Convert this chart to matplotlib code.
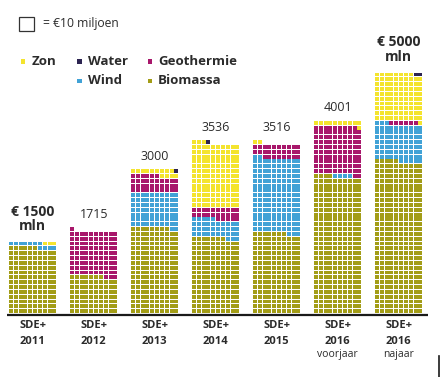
import matplotlib
matplotlib.use("Agg")
import matplotlib.pyplot as plt
from matplotlib.patches import Rectangle
from matplotlib.collections import PatchCollection

# SDE+ budget per round, one square = EUR 10 mln
rounds = ["2011", "2012", "2013", "2014", "2015", "2016", "2016"]
round_sub = ["", "", "", "", "", "voorjaar", "najaar"]
budget_labels = ["€ 1500\nmln", "1715", "3000", "3536", "3516", "4001", "€ 5000\nmln"]
label_bold = [True, False, False, False, False, False, True]

categories = ["Biomassa", "Wind", "Geothermie", "Zon", "Water"]
biomassa = [136, 77, 178, 157, 167, 284, 315]
wind = [11, 0, 72, 38, 155, 4, 78]
geothermie = [0, 94, 36, 25, 28, 101, 6]
zon = [3, 0, 13, 133, 2, 11, 99]
water = [0, 0, 1, 1, 0, 0, 2]

colors = {
    "Biomassa": "#a39d17",
    "Wind": "#41a2d6",
    "Geothermie": "#a8176b",
    "Zon": "#f4e42e",
    "Water": "#2c2451",
}
series = {"Biomassa": biomassa, "Wind": wind, "Geothermie": geothermie,
          "Zon": zon, "Water": water}

TXT = "#2b2b2b"
plt.rcParams["font.family"] = ["Open Sans", "DejaVu Sans"]

fig = plt.figure(figsize=(4.4, 3.77), dpi=100)
ax = fig.add_axes([0, 0, 1, 1])
ax.set_xlim(0, 440)
ax.set_ylim(377, 0)
ax.axis("off")

# waffle layout (pixels)
base = 313.5
first_left = 9
col_pitch = 61
pitch = 4.83
size = 3.9
per_row = 10

rects, fcols = [], []
for i in range(len(rounds)):
    x0 = first_left + i * col_pitch
    k = 0
    for cat in categories:
        for _ in range(series[cat][i]):
            row, col = divmod(k, per_row)
            rects.append(Rectangle((x0 + col * pitch, base - 0.4 - row * pitch - size), size, size))
            fcols.append(colors[cat])
            k += 1
    n_rows = -(-k // per_row)
    top = base - n_rows * pitch
    cx = x0 + (per_row * pitch - (pitch - size)) / 2
    if label_bold[i]:
        ax.text(cx, top - 8, budget_labels[i], ha="center", va="bottom", fontsize=10,
                fontweight="bold", color=TXT, linespacing=1.05)
    else:
        ax.text(cx, top - 6, budget_labels[i], ha="center", va="bottom", fontsize=9,
                color=TXT)
    ax.text(cx, 326, "SDE+", ha="center", va="center", fontsize=8, fontweight="bold", color=TXT)
    ax.text(cx, 341, rounds[i], ha="center", va="center", fontsize=8, fontweight="bold", color=TXT)
    if round_sub[i]:
        ax.text(cx, 355, round_sub[i], ha="center", va="center", fontsize=7.5, color=TXT)

ax.add_collection(PatchCollection(rects, facecolors=fcols, edgecolors="none"))

# baseline
ax.plot([7, 428], [314.8, 314.8], color="#1a1a1a", lw=1.6, solid_capstyle="butt")
ax.plot([439, 439], [356, 377], color="#1a1a1a", lw=1.2)

# scale key
ax.add_patch(Rectangle((18.5, 16.5), 15, 14.5, fill=False, edgecolor="#333333", lw=0.9))
ax.text(43, 24, "= €10 miljoen", ha="left", va="center", fontsize=8.7, color=TXT)

# legend
legend_pos = {
    "Zon": (20.7, 61.5),
    "Water": (77.3, 61.5),
    "Geothermie": (147.7, 61.5),
    "Wind": (77.3, 81),
    "Biomassa": (147.7, 81),
}
for cat, (lx, ly) in legend_pos.items():
    ax.add_patch(Rectangle((lx, ly - 2.3), 4.6, 4.6, facecolor=colors[cat], edgecolor="none"))
    ax.text(lx + 10.5, ly, cat, ha="left", va="center", fontsize=9.5, fontweight="bold",
            color=TXT)

fig.savefig("out.png", dpi=100)
